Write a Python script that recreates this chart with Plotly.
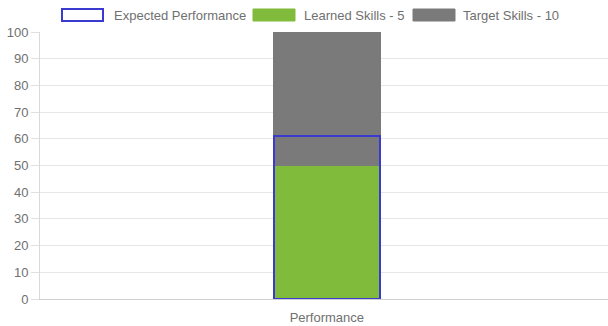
import plotly.graph_objects as go

categories = ["Performance"]
learned_skills = [50]
target_skills = [50]
expected_performance = [61]
series_names = ["Expected Performance", "Learned Skills - 5", "Target Skills - 10"]
y_ticks = list(range(0, 101, 10))

GREEN = "#80bb3c"
GRAY = "#7a7a7a"
BLUE = "#3a3ad0"
TEXT = "#707070"
FONT = "Liberation Sans, Arial, sans-serif"

W, H = 608, 326
L, R, T, B = 40, 0, 32, 27
PW, PH = W - L - R, H - T - B

def px(x):
    return (x - L) / PW

def py(y):
    return (H - B - y) / PH

fig = go.Figure()
fig.add_bar(x=categories, y=learned_skills, base=[0] * len(categories),
            name=series_names[1], marker=dict(color=GREEN, line=dict(width=0)),
            width=0.19, showlegend=False)
fig.add_bar(x=categories, y=target_skills, base=learned_skills,
            name=series_names[2], marker=dict(color=GRAY, line=dict(width=0)),
            width=0.19, showlegend=False)
fig.add_bar(x=categories, y=expected_performance, base=[0] * len(categories),
            name=series_names[0],
            marker=dict(color="rgba(0,0,0,0)", line=dict(color=BLUE, width=2)),
            width=0.186, showlegend=False)

# custom legend (wide boxes like the reference)
legend_items = [
    (62, 103, 112, dict(fillcolor="white", line=dict(color=BLUE, width=2))),
    (253, 295, 302, dict(fillcolor=GREEN, line=dict(color=GREEN, width=1))),
    (413, 455, 461, dict(fillcolor=GRAY, line=dict(color=GRAY, width=1))),
]
shapes = []
annotations = []
for (x0, x1, tx, style), name in zip(legend_items, series_names):
    shapes.append(dict(type="rect", xref="paper", yref="paper",
                       x0=px(x0), x1=px(x1), y0=py(21), y1=py(9), **style))
    annotations.append(dict(xref="paper", yref="paper", x=px(tx), y=py(15),
                            xanchor="left", yanchor="middle", showarrow=False,
                            text=name, font=dict(family=FONT, size=13, color=TEXT)))

fig.update_layout(
    width=W, height=H,
    margin=dict(l=L, r=R, t=T, b=B, pad=0),
    paper_bgcolor="white", plot_bgcolor="white",
    barmode="overlay", bargap=0,
    showlegend=False,
    shapes=shapes, annotations=annotations,
    font=dict(family=FONT, size=13, color=TEXT),
)
fig.update_yaxes(range=[0, 100], tickvals=y_ticks, showgrid=True,
                 gridcolor="#e6e6e6", gridwidth=1, zeroline=False,
                 showline=True, linecolor="#d9d9d9", linewidth=1,
                 ticks="outside", ticklen=8, tickcolor="#e0e0e0",
                 tickfont=dict(family=FONT, size=13, color=TEXT))
fig.update_xaxes(range=[-0.505, 0.495], showgrid=False, zeroline=False,
                 showline=True, linecolor="#d0d0d0", linewidth=1,
                 ticks="", ticklabelstandoff=6,
                 tickfont=dict(family=FONT, size=13, color=TEXT))

fig.write_html("out.html")
